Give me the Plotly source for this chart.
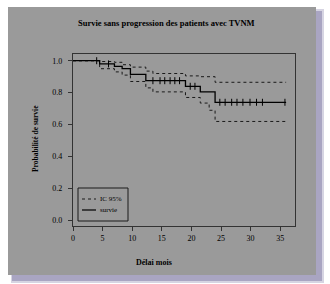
import plotly.graph_objects as go

# ---- data ----
surv_time = [0, 4.5, 7.0, 8.3, 9.7, 12.3, 19.0, 21.5, 24.0, 36.0]
surv_prob = [1.0, 0.98, 0.965, 0.95, 0.915, 0.875, 0.84, 0.805, 0.74, 0.74]

upper_time = [0, 4.5, 7.0, 8.3, 9.7, 12.3, 13.5, 19.0, 21.5, 24.0, 36.0]
upper_prob = [1.0, 0.995, 0.99, 0.975, 0.96, 0.935, 0.92, 0.905, 0.90, 0.865, 0.865]

lower_time = [0, 4.5, 7.0, 8.3, 9.7, 12.3, 13.5, 19.0, 21.5, 23.0, 24.0, 36.0]
lower_prob = [1.0, 0.95, 0.93, 0.91, 0.87, 0.83, 0.805, 0.77, 0.735, 0.69, 0.62, 0.62]

cens_time = [4.0, 6.0, 13.5, 14.7, 15.5, 16.4, 17.2, 18.0, 19.8, 20.6,
             24.8, 25.7, 26.8, 27.7, 28.7, 29.9, 31.0, 32.0, 35.8]
cens_prob = [1.0, 0.98, 0.875, 0.875, 0.875, 0.875, 0.875, 0.875, 0.84, 0.84,
             0.74, 0.74, 0.74, 0.74, 0.74, 0.74, 0.74, 0.74, 0.74]

x_ticks = [0, 5, 10, 15, 20, 25, 30, 35]
y_ticks = [0.0, 0.2, 0.4, 0.6, 0.8, 1.0]

title = "Survie sans progression des patients avec TVNM"
x_title = "Délai mois"
y_title = "Probabilité de survie"
legend_labels = ["IC 95%", "survie"]

# ---- layout geometry (pixels) ----
W, H = 330, 284
L, R, T, B = 73, 295, 54, 226


def px(x):
    return (x - L) / (R - L)


def py(y):
    return (B - y) / (B - T)


FONT = "Liberation Serif"
DARK = "#1a1a1a"

fig = go.Figure()

fig.add_trace(go.Scatter(x=upper_time, y=upper_prob, mode="lines", line_shape="hv",
                         line=dict(color=DARK, width=1, dash="dot"), showlegend=False))
fig.add_trace(go.Scatter(x=lower_time, y=lower_prob, mode="lines", line_shape="hv",
                         line=dict(color=DARK, width=1, dash="dot"), showlegend=False))
fig.add_trace(go.Scatter(x=surv_time, y=surv_prob, mode="lines", line_shape="hv",
                         line=dict(color="#000000", width=1.3), showlegend=False))
fig.add_trace(go.Scatter(x=cens_time, y=cens_prob, mode="markers",
                         marker=dict(symbol="line-ns", size=5,
                                     line=dict(color="#000000", width=1)),
                         showlegend=False))

shapes = []
# shadow
shapes.append(dict(type="rect", xref="paper", yref="paper", layer="below",
                   x0=px(11), x1=px(324), y0=py(283), y1=py(9),
                   fillcolor="#d6d4e2", line=dict(width=0)))
shapes.append(dict(type="rect", xref="paper", yref="paper", layer="below",
                   x0=px(12), x1=px(322), y0=py(281), y1=py(11),
                   fillcolor="#a9a5c2", line=dict(width=0)))
# gray panel
shapes.append(dict(type="rect", xref="paper", yref="paper", layer="below",
                   x0=px(8), x1=px(316), y0=py(275), y1=py(7),
                   fillcolor="#9a9a9a", line=dict(width=0)))
# legend box
shapes.append(dict(type="rect", xref="paper", yref="paper",
                   x0=px(78), x1=px(128), y0=py(221), y1=py(188),
                   line=dict(color=DARK, width=1)))
shapes.append(dict(type="line", xref="paper", yref="paper",
                   x0=px(82), x1=px(96), y0=py(199), y1=py(199),
                   line=dict(color=DARK, width=1, dash="dot")))
shapes.append(dict(type="line", xref="paper", yref="paper",
                   x0=px(82), x1=px(96), y0=py(210), y1=py(210),
                   line=dict(color="#000000", width=1.2)))

annotations = [
    dict(text="<b>" + title + "</b>", xref="paper", yref="paper",
         x=px(166), y=py(23), showarrow=False, xanchor="center", yanchor="middle",
         font=dict(family=FONT, size=8.5, color="#000000")),
    dict(text="<b>" + x_title + "</b>", xref="paper", yref="paper",
         x=px(154), y=py(262), showarrow=False, xanchor="center", yanchor="middle",
         font=dict(family=FONT, size=8, color="#000000")),
    dict(text="<b>" + y_title + "</b>", xref="paper", yref="paper",
         x=px(35), y=py(139), showarrow=False, textangle=-90,
         xanchor="center", yanchor="middle",
         font=dict(family=FONT, size=7.5, color="#000000")),
    dict(text=legend_labels[0], xref="paper", yref="paper",
         x=px(98), y=py(199), showarrow=False, xanchor="left", yanchor="middle",
         font=dict(family=FONT, size=7, color="#000000")),
    dict(text=legend_labels[1], xref="paper", yref="paper",
         x=px(98), y=py(210), showarrow=False, xanchor="left", yanchor="middle",
         font=dict(family=FONT, size=7, color="#000000")),
]

fig.update_layout(
    width=W, height=H,
    margin=dict(l=L, r=W - R, t=T, b=H - B, pad=0),
    paper_bgcolor="#ffffff",
    plot_bgcolor="rgba(0,0,0,0)",
    showlegend=False,
    shapes=shapes,
    annotations=annotations,
    font=dict(family=FONT, size=8, color="#000000"),
)

fig.update_xaxes(range=[0, 37.5], tickvals=x_ticks, ticktext=[str(v) for v in x_ticks],
                 showgrid=False, zeroline=False,
                 showline=True, linecolor="#333333", linewidth=1.2, mirror=True,
                 ticks="outside", ticklen=4, tickcolor="#333333",
                 tickfont=dict(family=FONT, size=8, color="#000000"))
fig.update_yaxes(range=[-0.034, 1.042], tickvals=y_ticks,
                 ticktext=["%.1f" % v for v in y_ticks],
                 showgrid=False, zeroline=False,
                 showline=True, linecolor="#333333", linewidth=1.2, mirror=True,
                 ticks="outside", ticklen=4, tickcolor="#333333",
                 ticklabelstandoff=4,
                 tickfont=dict(family=FONT, size=8, color="#000000"))

fig.write_html("out.html")
